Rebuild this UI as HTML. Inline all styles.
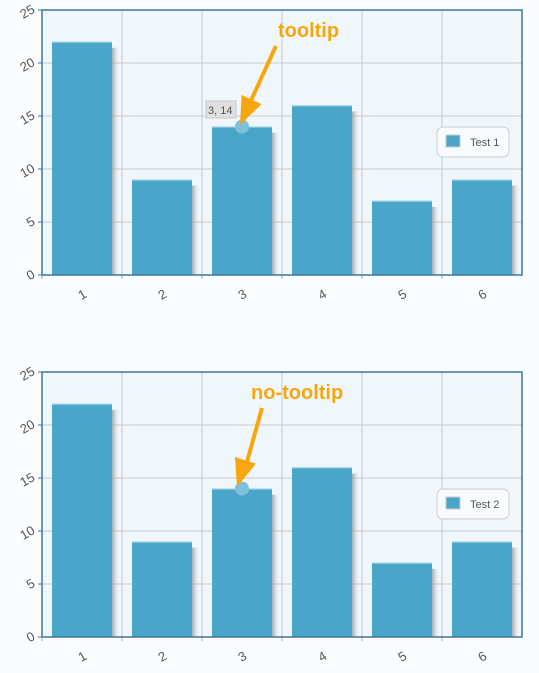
<!DOCTYPE html>
<html><head><meta charset="utf-8"><style>
body{margin:0;background:#fafcfe;width:539px;height:668px;overflow:hidden;font-family:"Liberation Sans",sans-serif}
</style></head><body>
<svg id="svg" width="539" height="668" xmlns="http://www.w3.org/2000/svg">
<defs>
<linearGradient id="sh" x1="0" x2="1"><stop offset="0" stop-color="#888" stop-opacity="0.7"/><stop offset="1" stop-color="#ccc" stop-opacity="0"/></linearGradient>
</defs>
</svg>
<script>
const categories=["1","2","3","4","5","6"];
const values1=[22,9,14,16,7,9];
const values2=[22,9,14,16,7,9];
const yTicks=[0,5,10,15,20,25];
const seriesNames=["Test 1","Test 2"];
const NS="http://www.w3.org/2000/svg";
const svg=document.getElementById('svg');
function mk(t,a,p){const e=document.createElementNS(NS,t);for(const k in a)e.setAttribute(k,a[k]);(p||svg).appendChild(e);return e;}
function chart(top,vals,name,note,tooltip){
  const g=mk('g',{});
  
  
  const L=42,R=522,T=top,B=top+265;
  const x=i=>L+(R-L)/categories.length*(i+0.5);
  const y=v=>B-(v/25)*(B-T);
  const bw=60;
  const bg=mk('rect',{x:L,y:T,width:R-L,height:B-T,fill:'#f0f7fc'},g);
  
  yTicks.forEach(t=>{
    mk('line',{x1:L,x2:R,y1:y(t),y2:y(t),stroke:'#c8c8c8'},g);
    mk('line',{x1:L-4,x2:L,y1:y(t),y2:y(t),stroke:'#3a76a0'},g);
    const tx=mk('text',{x:L-8,y:y(t)+5,'text-anchor':'end','font-size':13,fill:'#555',transform:`rotate(-30 ${L-13} ${y(t)})`},g);
    tx.textContent=t;
    
  });
  categories.forEach((c,i)=>{
    const gx=L+(R-L)/categories.length*i;
    if(i>0)mk('line',{x1:gx,x2:gx,y1:T,y2:B,stroke:'#c8c8c8'},g);
    mk('line',{x1:gx,x2:gx,y1:B,y2:B+4,stroke:'#aaa'},g);
    const tx=mk('text',{x:x(i),y:B+24,'text-anchor':'middle','font-size':13,fill:'#555',transform:`rotate(-30 ${x(i)} ${B+19})`},g);
    tx.textContent=c;
    
  });
  vals.forEach((v,i)=>{
    mk('rect',{x:x(i)+bw/2,y:y(v)+6,width:7,height:B-y(v)-6,fill:'url(#sh)'},g);
    const r=mk('rect',{x:x(i)-bw/2,y:y(v),width:bw,height:B-y(v),fill:'#4aa6c8'},g);
    
    mk('line',{x1:x(i)-bw/2,x2:x(i)+bw/2,y1:y(v)+0.5,y2:y(v)+0.5,stroke:'#9fd0e4'},g);
  });
  const hl=mk('circle',{cx:x(2),cy:y(vals[2]),r:7,fill:'#7fbfdc'},g);
  
  mk('rect',{x:x(2)+bw/2,y:y(vals[2])+6,width:0,height:0},g);
  const br=mk('rect',{x:L,y:T,width:R-L,height:B-T,fill:'none',stroke:'#3a76a0','stroke-width':1.5},g);
  
  // legend
  const lg=mk('g',{},g);
  
  mk('rect',{x:437,y:T+117,width:72,height:30,rx:6,fill:'#f8fbfd',stroke:'#ccc'},lg);
  mk('rect',{x:446,y:T+125,width:14,height:12,fill:'#4aa6c8',stroke:'#ccc'},lg);
  const lt=mk('text',{x:470,y:T+136,'font-size':11,fill:'#555'},lg);lt.textContent=name;
  if(tooltip){
    const tg=mk('g',{},g);
    
    mk('rect',{x:206,y:T+91,width:30,height:17,fill:'#e0e0e0',stroke:'#c8c8c8'},tg);
    const tt=mk('text',{x:208,y:T+104,'font-size':11,fill:'#555'},tg);tt.textContent=tooltip;
  }
  // annotation
  const ag=mk('g',{},g);
  
  const nt=mk('text',{x:note==='tooltip'?278:251,y:T+27,'font-size':20,'font-weight':'bold',fill:'#f7a60f'},ag);nt.textContent=note;
  const ax1=note==='tooltip'?276:262,ay1=T+36,ax2=note==='tooltip'?240:237,ay2=T+115;
  mk('line',{x1:ax1,y1:ay1,x2:ax2+8,y2:ay2-18,stroke:'#f7a60f','stroke-width':4},ag);
  const dx=ax2-ax1,dy=ay2-ay1,len=Math.hypot(dx,dy),ux=dx/len,uy=dy/len;
  const bx=ax2-ux*28,by=ay2-uy*28;
  mk('polygon',{points:`${ax2},${ay2} ${bx-uy*11},${by+ux*11} ${bx+uy*11},${by-ux*11}`,fill:'#f7a60f'},ag);
}
chart(10,values1,seriesNames[0],'tooltip','3, 14');
chart(372,values2,seriesNames[1],'no-tooltip',null);
</script>
</body></html>
